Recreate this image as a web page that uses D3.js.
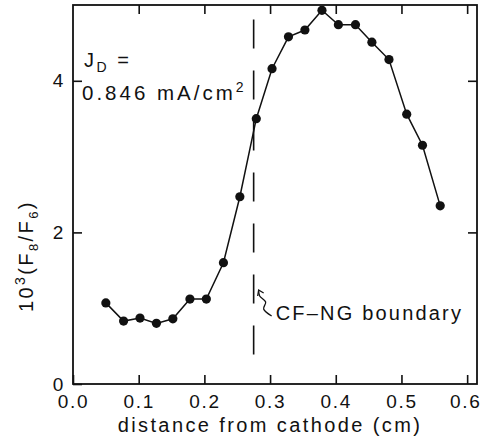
<!DOCTYPE html>
<html>
<head>
<meta charset="utf-8">
<script src="https://cdn.jsdelivr.net/npm/d3@7"></script>
<style>
  body { margin: 0; background: #fff; }
  svg { display: block; }
  text { font-family: "Liberation Sans", Arial, Helvetica, sans-serif; fill: #111; }
</style>
</head>
<body>
<svg id="chart" width="482" height="446"></svg>
<script>
// ---- data ----
const distance = [0.050, 0.077, 0.102, 0.127, 0.152, 0.178, 0.203, 0.229, 0.254, 0.279,
                  0.303, 0.328, 0.353, 0.379, 0.404, 0.430, 0.455, 0.481, 0.508, 0.532, 0.559];
const ratio = [1.07, 0.83, 0.87, 0.80, 0.86, 1.12, 1.12, 1.60, 2.47, 3.50,
               4.16, 4.58, 4.67, 4.93, 4.74, 4.74, 4.51, 4.28, 3.56, 3.15, 2.35];
const xTicks = [0.0, 0.1, 0.2, 0.3, 0.4, 0.5, 0.6];
const yTicks = [0, 2, 4];
const boundaryX = 0.275;
const boundaryRange = [0.31, 4.81];

// ---- layout ----
const W = 482, H = 446;
const margin = { left: 73, top: 5, right: 5, bottom: 62 };
const svg = d3.select("#chart");

const x = d3.scaleLinear().domain([0, 0.615]).range([margin.left, W - margin.right]);
const y = d3.scaleLinear().domain([0, 5]).range([H - margin.bottom, margin.top]);

const tickLen = 9;
const fmtX = d3.format(".1f");

// frame
svg.append("rect")
  .attr("x", x.range()[0]).attr("y", y.range()[1])
  .attr("width", x.range()[1] - x.range()[0])
  .attr("height", y.range()[0] - y.range()[1])
  .attr("fill", "none").attr("stroke", "#111").attr("stroke-width", 1.8);

// axes (inward ticks on all four sides)
const axB = d3.axisBottom(x).tickValues(xTicks).tickSize(-tickLen).tickFormat(fmtX).tickPadding(11);
const axT = d3.axisTop(x).tickValues(xTicks.slice(1)).tickSize(-tickLen).tickFormat("");
const axL = d3.axisLeft(y).tickValues(yTicks).tickSize(-tickLen).tickFormat(d3.format("d")).tickPadding(8);
const axR = d3.axisRight(y).tickValues(yTicks.slice(1)).tickSize(-tickLen).tickFormat("");

function style(g) {
  g.select(".domain").remove();
  g.selectAll(".tick line").attr("stroke", "#111").attr("stroke-width", 1.6);
  g.selectAll(".tick text").attr("font-size", 19).attr("letter-spacing", 1.7)
    .attr("font-family", "Liberation Sans, Arial, sans-serif").attr("fill", "#111");
}
const gB = svg.append("g").attr("transform", `translate(0,${y(0)})`).call(axB).call(style);
gB.selectAll(".tick text").filter(d => d === 0.6).attr("dx", -2);
svg.append("g").attr("transform", `translate(0,${y(5)})`).call(axT).call(style);
svg.append("g").attr("transform", `translate(${x(0)},0)`).call(axL).call(style);
svg.append("g").attr("transform", `translate(${x(0.615)},0)`).call(axR).call(style);

// boundary dashed line
svg.append("line")
  .attr("x1", x(boundaryX)).attr("x2", x(boundaryX))
  .attr("y1", y(boundaryRange[1])).attr("y2", y(boundaryRange[0]))
  .attr("stroke", "#111").attr("stroke-width", 1.6)
  .attr("stroke-dasharray", "29,22");

// data line + markers
const pts = distance.map((d, i) => [d, ratio[i]]);
svg.append("path")
  .datum(pts)
  .attr("fill", "none").attr("stroke", "#111").attr("stroke-width", 1.5)
  .attr("d", d3.line().x(d => x(d[0])).y(d => y(d[1])));
svg.append("g").selectAll("circle").data(pts).join("circle")
  .attr("cx", d => x(d[0])).attr("cy", d => y(d[1])).attr("r", 4.6).attr("fill", "#111");

// axis titles
svg.append("text")
  .attr("x", 270).attr("y", 432)
  .attr("text-anchor", "middle").attr("font-size", 20).attr("letter-spacing", 2.4)
  .text("distance from cathode (cm)");

const yt = svg.append("text")
  .attr("transform", `translate(33,312) rotate(-90)`)
  .attr("text-anchor", "start").attr("font-size", 20).attr("letter-spacing", 2.4);
yt.append("tspan").text("10");
yt.append("tspan").attr("font-size", 14).attr("dy", -8).text("3");
yt.append("tspan").attr("dy", 8).text("(F");
yt.append("tspan").attr("font-size", 13).attr("dy", 5).text("8");
yt.append("tspan").attr("dy", -5).text("/F");
yt.append("tspan").attr("font-size", 13).attr("dy", 5).text("6");
yt.append("tspan").attr("dy", -5).text(")");

// J_D annotation
const j1 = svg.append("text").attr("x", x(0) + 11).attr("y", 67).attr("font-size", 20).attr("letter-spacing", 2.5);
j1.append("tspan").text("J");
j1.append("tspan").attr("font-size", 14).attr("dy", 5).text("D");
j1.append("tspan").attr("dy", -5).text(" =");
const j2 = svg.append("text").attr("x", x(0) + 9).attr("y", 100).attr("font-size", 20.5).attr("letter-spacing", 3);
j2.append("tspan").text("0.846 mA/cm");
j2.append("tspan").attr("font-size", 14).attr("dy", -8).text("2");

// CF-NG boundary annotation
const bx = x(boundaryX), by = 290;
const arrowPts = [[14, 26], [6, 19], [8, 12], [2, 6], [1, 0]];
svg.append("path")
  .datum(arrowPts)
  .attr("fill", "none").attr("stroke", "#111").attr("stroke-width", 1.3)
  .attr("d", d3.line().curve(d3.curveCatmullRom).x(d => bx + 4 + d[0]).y(d => by + d[1]));
svg.append("path")
  .attr("fill", "none").attr("stroke", "#111").attr("stroke-width", 1.3)
  .attr("d", `M${bx + 4},${by + 6} L${bx + 5},${by} L${bx + 10},${by + 3}`);
svg.append("text")
  .attr("x", bx + 22).attr("y", 320).attr("font-size", 20).attr("letter-spacing", 2.2)
  .text("CF\u2013NG boundary");
</script>
</body>
</html>
